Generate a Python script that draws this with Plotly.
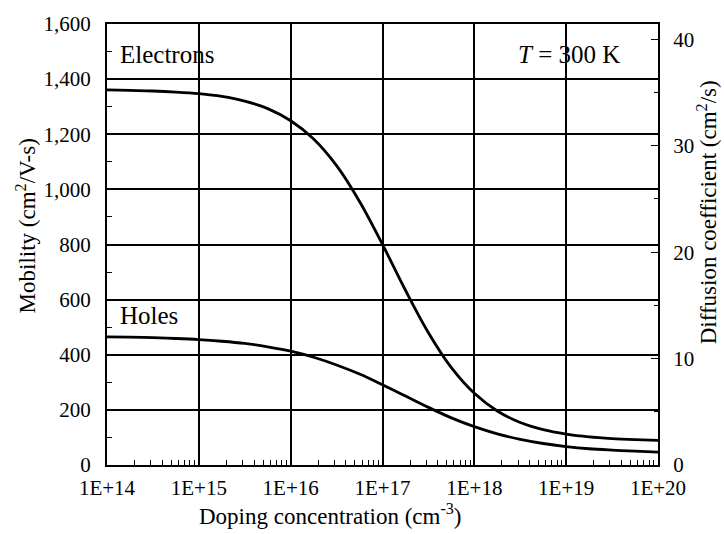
import plotly.graph_objects as go

# Doping concentration, log10(N / cm^-3)
log_doping = [14.0, 14.25, 14.5, 14.75, 15.0, 15.25, 15.5, 15.75, 16.0, 16.25,
              16.5, 16.75, 17.0, 17.25, 17.5, 17.75, 18.0, 18.25, 18.5, 18.75,
              19.0, 19.25, 19.5, 19.75, 20.0]

# Silicon mobilities at 300 K (cm^2/V-s)
electron_mobility = [1361, 1359, 1357, 1353, 1347, 1337, 1320, 1293, 1249, 1183,
                     1086, 956, 800, 634, 480, 353, 260, 196, 154, 128,
                     112, 102, 96, 92, 89]
hole_mobility = [465, 464, 462, 459, 455, 449, 441, 429, 413, 391,
                 363, 330, 291, 250, 209, 171, 139, 113, 93, 78,
                 67, 59, 54, 50, 47]

x_tick_labels = ["1E+14", "1E+15", "1E+16", "1E+17", "1E+18", "1E+19", "1E+20"]

KT_Q = 0.0259  # thermal voltage at 300 K (V), Einstein relation D = mu*kT/q
MU_MAX = 1600

doping = [10.0 ** v for v in log_doping]
diffusion_e = [m * KT_Q for m in electron_mobility]

FONT = "Liberation Serif"
BLACK = "#000000"

fig = go.Figure()
fig.add_trace(go.Scatter(x=doping, y=electron_mobility, mode="lines",
                         line=dict(color=BLACK, width=2.8, shape="spline"),
                         name="Electrons", showlegend=False))
fig.add_trace(go.Scatter(x=doping, y=hole_mobility, mode="lines",
                         line=dict(color=BLACK, width=2.8, shape="spline"),
                         name="Holes", showlegend=False))
# Diffusion-coefficient scale carried on the right axis
fig.add_trace(go.Scatter(x=doping, y=diffusion_e, mode="lines", yaxis="y2",
                         line=dict(color="rgba(0,0,0,0)", width=0),
                         hoverinfo="skip", showlegend=False))

decades = list(range(14, 21))
minor_vals = [k * 10.0 ** e for e in range(14, 20) for k in range(2, 10)]

fig.update_layout(
    width=724, height=534,
    margin=dict(l=107, r=66, t=16, b=69),
    paper_bgcolor="white", plot_bgcolor="white",
    font=dict(family=FONT, size=21, color=BLACK),
    xaxis=dict(
        type="log", range=[14, 20],
        tickmode="array", tickvals=[10.0 ** d for d in decades], ticktext=x_tick_labels,
        ticks="", showgrid=True, gridcolor=BLACK, gridwidth=1.8,
        showline=True, linecolor=BLACK, linewidth=2.2, mirror=True,
        zeroline=False, ticklabelstandoff=3,
        minor=dict(tickmode="array", tickvals=minor_vals, ticks="inside",
                   ticklen=5, tickwidth=1.2, tickcolor=BLACK, showgrid=False),
    ),
    yaxis=dict(
        range=[0, MU_MAX], dtick=200, tickformat=",d",
        ticks="", showgrid=True, gridcolor=BLACK, gridwidth=1.8,
        showline=True, linecolor=BLACK, linewidth=2.2,
        zeroline=False, ticklabelstandoff=10,
        minor=dict(dtick=100, ticks="inside", ticklen=5, tickwidth=1.2,
                   tickcolor=BLACK, showgrid=False),
    ),
    yaxis2=dict(
        overlaying="y", side="right", range=[0, MU_MAX * KT_Q], dtick=10,
        ticks="inside", ticklen=7, tickwidth=1.2, tickcolor=BLACK,
        showgrid=False, showline=True, linecolor=BLACK, linewidth=2.2,
        zeroline=False, ticklabelstandoff=9,
        minor=dict(dtick=5, ticks="inside", ticklen=4, tickwidth=1.2,
                   tickcolor=BLACK, showgrid=False),
    ),
)

annotations = [
    dict(text="Electrons", x=0.02, y=0.93, xanchor="left", yanchor="middle",
         font=dict(size=25)),
    dict(text="Holes", x=0.02, y=0.338, xanchor="left", yanchor="middle",
         font=dict(size=25)),
    dict(text="<i>T</i> = 300 K", x=0.935, y=0.93,
         xanchor="right", yanchor="middle", font=dict(size=25)),
    dict(text="Mobility (cm<sup>2</sup>/V-s)", x=-0.147, y=0.541, textangle=-90,
         xanchor="center", yanchor="middle", font=dict(size=23)),
    dict(text="Diffusion coefficient (cm<sup>2</sup>/s)", x=1.09, y=0.572,
         textangle=-90, xanchor="center", yanchor="middle", font=dict(size=23)),
    dict(text="Doping concentration (cm<sup>-3</sup>)", x=0.406, y=-0.113,
         xanchor="center", yanchor="middle", font=dict(size=23)),
]
for a in annotations:
    a.update(xref="paper", yref="paper", showarrow=False)
fig.update_layout(annotations=annotations)

fig.write_html("out.html")
